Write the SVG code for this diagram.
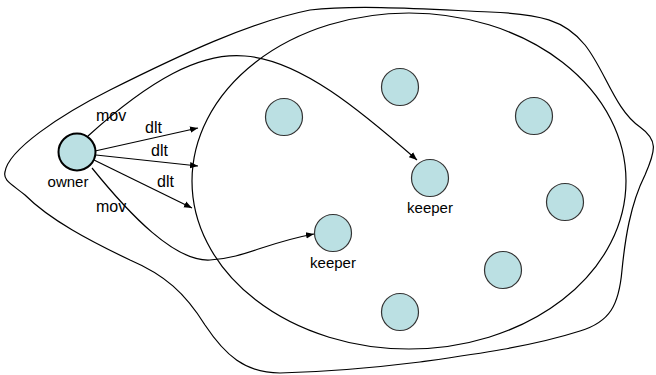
<svg xmlns="http://www.w3.org/2000/svg" width="656" height="375" viewBox="0 0 656 375">
  <style>
    .line { fill: none; stroke: #000; stroke-width: 1.2; }
    .node circle { fill: #bbe0e3; stroke: #333; stroke-width: 1.2; }
    .label { font-family: "Liberation Sans", Arial, sans-serif; font-size: 15px; fill: #000; }
    .edge { font-family: "Liberation Sans", Arial, sans-serif; font-size: 16px; fill: #000; }
  </style>
  <defs>
    <marker id="arrow" viewBox="0 0 10 10" refX="10" refY="5" markerWidth="8" markerHeight="8" markerUnits="userSpaceOnUse" orient="auto">
      <path d="M0 1 L10 5 L0 9 Z" fill="#000"/>
    </marker>
  </defs>

  <!-- outer domain boundary -->
  <path class="line" d="M 5 172
    C 8 150, 60 115, 110 90
    C 180 55, 250 22, 310 10
    C 360 4, 440 10, 490 12
    C 540 14, 565 20, 585 45
    C 605 70, 615 110, 640 127
    C 658 140, 656 150, 645 175
    C 630 205, 625 240, 622 270
    C 619 305, 610 322, 580 331
    C 530 347, 470 355, 420 362
    C 380 367, 320 372, 280 373
    C 245 373, 225 355, 205 325
    C 185 293, 165 275, 130 260
    C 90 241, 50 220, 25 195
    C 10 183, 3 180, 5 172 Z"/>

  <!-- inner region -->
  <ellipse class="line" cx="409" cy="181" rx="217" ry="168"/>

  <g id="connectors">
    <path class="line" d="M 88 136 C 150 80, 200 52, 245 56 C 300 60, 360 110, 417 160" marker-end="url(#arrow)"/>
    <path class="line" d="M 92 168 C 130 215, 175 262, 210 260 C 245 258, 265 243, 314 234" marker-end="url(#arrow)"/>
    <line class="line" x1="95" y1="151" x2="198" y2="128" marker-end="url(#arrow)"/>
    <line class="line" x1="96" y1="155" x2="198" y2="166" marker-end="url(#arrow)"/>
    <line class="line" x1="94" y1="160" x2="192" y2="208" marker-end="url(#arrow)"/>
    <text class="edge" x="96" y="121">mov</text>
    <text class="edge" x="145" y="133">dlt</text>
    <text class="edge" x="151" y="156">dlt</text>
    <text class="edge" x="157" y="187">dlt</text>
    <text class="edge" x="96" y="212">mov</text>
  </g>

  <g id="owner" class="node">
    <circle cx="77" cy="152" r="18.5" style="stroke:#000;stroke-width:2"/>
    <text class="label" x="68" y="187" text-anchor="middle">owner</text>
  </g>
  <g id="keeper1" class="node">
    <circle cx="430" cy="178" r="18.5"/>
    <text class="label" x="430" y="213" text-anchor="middle">keeper</text>
  </g>
  <g id="keeper2" class="node">
    <circle cx="333" cy="233" r="18.5"/>
    <text class="label" x="333" y="268" text-anchor="middle">keeper</text>
  </g>
  <g id="n1" class="node"><circle cx="284" cy="117" r="18.5"/></g>
  <g id="n2" class="node"><circle cx="400" cy="87" r="18.5"/></g>
  <g id="n3" class="node"><circle cx="534" cy="116" r="18.5"/></g>
  <g id="n4" class="node"><circle cx="565" cy="202" r="18.5"/></g>
  <g id="n5" class="node"><circle cx="503" cy="270" r="18.5"/></g>
  <g id="n6" class="node"><circle cx="400" cy="312" r="18.5"/></g>
</svg>
